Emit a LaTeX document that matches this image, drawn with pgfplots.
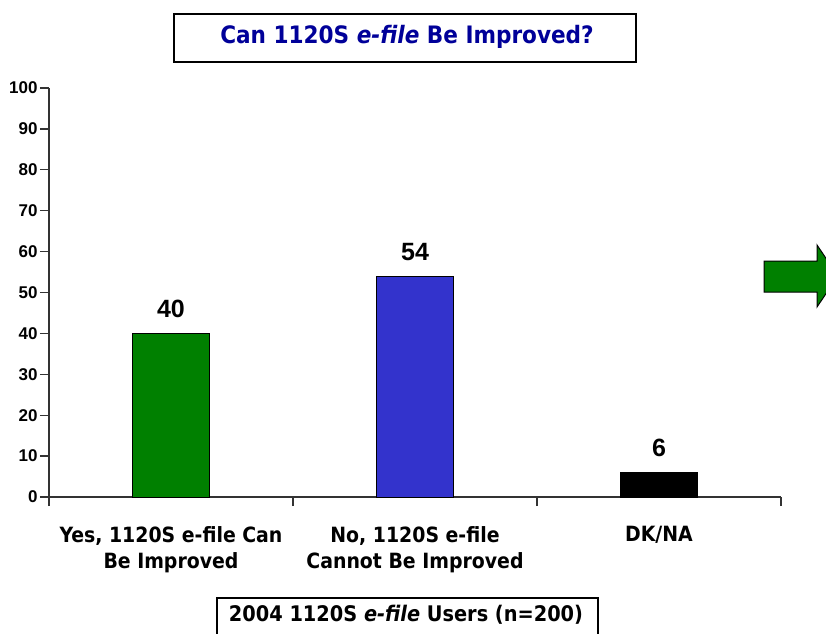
\documentclass[border=0pt]{standalone}
\usepackage{fontspec}
\setmainfont{Liberation Sans}
\newfontfamily\tahoma{DejaVu Sans Condensed}
\usepackage{pgfplots}
\pgfplotsset{compat=1.18}
\definecolor{barGreen}{RGB}{0,128,0}
\definecolor{barBlue}{RGB}{51,51,204}
\definecolor{titleBlue}{RGB}{0,0,153}

\begin{document}
\begin{tikzpicture}[x=1pt,y=1pt]
\useasboundingbox (0,0) rectangle (826,633);
\clip (0,0) rectangle (826,633);

\begin{axis}[
    at={(49pt,136pt)}, anchor=south west,
    scale only axis, width=732pt, height=409pt,
    xmin=-0.5, xmax=2.5, ymin=0, ymax=100,
    axis x line=bottom, axis y line=left,
    axis line style={-, line width=1.3pt, color=black!80},
    tick align=outside, major tick length=9pt,
    tick style={line width=1.3pt, color=black!80},
    ytick={0,10,...,100},
    xtick={-0.5,0.5,1.5,2.5}, xticklabels={},
    extra x ticks={0,1,2},
    extra x tick labels={{Yes, 1120S e-file Can\\Be Improved},{No, 1120S e-file\\Cannot Be Improved},{DK/NA}},
    extra x tick style={major tick length=0pt},
    xticklabel style={font=\tahoma\bfseries\fontsize{21}{26}\selectfont, align=center, yshift=-26pt},
    yticklabel style={font=\bfseries\fontsize{17}{17}\selectfont, xshift=1pt},
    /pgf/number format/assume math mode=true,
    bar width=77pt,
    nodes near coords,
    nodes near coords style={font=\bfseries\fontsize{25}{25}\selectfont, anchor=south, yshift=12pt},
  ]
  \addplot[ybar, bar shift=0pt, fill=barGreen, draw=black, line width=1pt] coordinates {(0,40)};
  \addplot[ybar, bar shift=0pt, fill=barBlue, draw=black, line width=1pt] coordinates {(1,54)};
  \addplot[ybar, bar shift=0pt, fill=black, draw=black, line width=1pt] coordinates {(2,6)};
\end{axis}

% title box
\draw[line width=1.5pt] (174,571) rectangle (636,619);
\node[font=\tahoma\bfseries\fontsize{24}{24}\selectfont, text=titleBlue] at (407,596) {Can 1120S \textit{e-file} Be Improved?};

% sample box
\draw[line width=1.5pt] (217,-10) rectangle (598,35);
\node[font=\tahoma\bfseries\fontsize{21.5}{21.5}\selectfont] at (406,18) {2004 1120S \textit{e-file} Users (n=200)};

% arrow
\filldraw[fill=barGreen, draw=black, line width=1pt] (764,341) -- (817,341) -- (817,326) -- (838,357) -- (817,388) -- (817,372) -- (764,372) -- cycle;
\end{tikzpicture}
\end{document}
